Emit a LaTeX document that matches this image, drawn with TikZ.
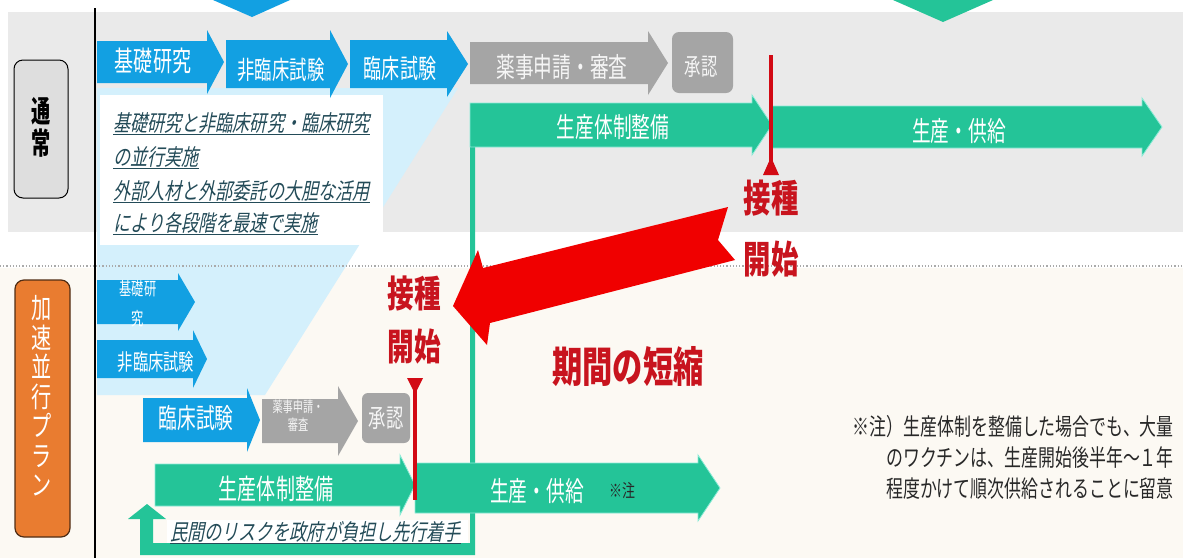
\documentclass[tikz,border=0pt]{standalone}
\usepackage{fontspec}
\newfontfamily\jpc[FakeStretch=0.72]{Noto Sans CJK JP}
\newfontfamily\jpa[FakeStretch=0.68]{Noto Sans CJK JP}
\newfontfamily\jpn[FakeStretch=0.64]{Noto Sans CJK JP}
\newfontfamily\jpi[FakeStretch=0.76,FakeSlant=0.2]{Noto Sans CJK JP}
\newcommand{\fs}[2]{\fontsize{#1}{#2}\selectfont}
\definecolor{blu}{RGB}{18,160,226}
\definecolor{gry}{RGB}{165,165,165}
\definecolor{grn}{RGB}{36,196,152}
\definecolor{grnl}{RGB}{140,235,215}
\definecolor{band}{RGB}{234,234,234}
\definecolor{cream}{RGB}{252,249,243}
\definecolor{funnel}{RGB}{212,240,252}
\definecolor{dotc}{RGB}{170,170,170}
\definecolor{rarrow}{RGB}{240,0,0}
\definecolor{rline}{RGB}{210,10,20}
\definecolor{rtxt}{RGB}{200,20,30}
\definecolor{italc}{RGB}{35,75,88}
\definecolor{notec}{RGB}{40,40,40}
\definecolor{lgray}{RGB}{222,222,222}
\definecolor{orng}{RGB}{233,124,48}
\definecolor{obrd}{RGB}{80,45,20}
\definecolor{gtxt}{RGB}{245,245,245}
% #1 style, #2 x left, #3 x head start, #4 x tip, #5 y centre, #6 half body, #7 half head
\newcommand{\harr}[7]{%
  \fill[#1] (#2,{#5-#6}) -- (#3,{#5-#6}) -- (#3,{#5-#7}) -- (#4,#5) -- (#3,{#5+#7}) -- (#3,{#5+#6}) -- (#2,{#5+#6}) -- cycle;}
\tikzset{
  wt/.style={text=white, inner sep=0pt},
  gt/.style={text=gtxt, inner sep=0pt},
  rt/.style={text=rtxt, inner sep=0pt, font=\jpc\bfseries\fs{37}{40}},
  it/.style={text=italc, inner sep=0pt, anchor=base west},
  grnarr/.style={fill=grn, draw=grnl, line width=0.8pt},
  redmark/.style={draw=rline, line width=3.5pt},
}
\begin{document}
\begin{tikzpicture}[x=1pt,y=-1pt]
\useasboundingbox (0,0) rectangle (1183,558);
\fill[white] (0,0) rectangle (1183,558);
\fill[band] (8,12) rectangle (1183,232);
\fill[cream] (0,268) rectangle (1183,558);
\fill[funnel] (97,88) -- (458,88) -- (265,395) -- (97,395) -- cycle;
\draw[dotc, dotted, line width=1.2pt] (0,266) -- (1183,266);
\draw[line width=1.3pt] (95,8) -- (95,558);
% partial arrows at the top
\fill[blu] (213,0) -- (290,0) -- (252,17) -- cycle;
\fill[grn] (893,0) -- (993,0) -- (943,22) -- cycle;
% white box behind the text
\fill[white] (100,95) rectangle (383,245);
\node[it, font=\jpi\fs{22.5}{24}] (t1) at (113,131) {\underline{基礎研究と非臨床研究・臨床研究}};
\node[it, font=\jpi\fs{22.5}{24}] (t2) at (113,165) {\underline{の並行実施}};
\node[it, font=\jpi\fs{22.5}{24}] (t3) at (113,199) {\underline{外部人材と外部委託の大胆な活用}};
\node[it, font=\jpi\fs{22.5}{24}] (t4) at (113,231) {\underline{により各段階を最速で実施}};
% green elbow
\fill[grn] (470,147) -- (475,147) -- (475,555) -- (140,555) -- (140,519) -- (128,519) -- (147,504) -- (166,519) -- (153,519) -- (153,543) -- (470,543) -- cycle;
\fill[white] (167,520) rectangle (468,543);
\node[it, font=\jpi\fs{22.5}{24}] (minkan) at (170,540) {\underline{民間のリスクを政府が負担し先行着手}};
% top row
\harr{blu}{97}{207}{224}{62}{21}{32}
\node[wt, font=\jpa\fs{28}{30}] (kiso) at (153,61) {基礎研究};
\harr{blu}{226}{330}{348}{64}{24}{34}
\node[wt, font=\jpa\fs{25.5}{27}] (hirin) at (281,70) {非臨床試験};
\harr{blu}{350}{447}{468}{64}{24}{33}
\node[wt, font=\jpa\fs{26.5}{28}] (rin) at (400,68) {臨床試験};
\harr{gry}{470}{648}{668}{63}{21}{32}
\node[gt, font=\jpa\fs{27.5}{29}] (yakuji) at (562,67) {薬事申請・審査};
\fill[gry, rounded corners=7pt] (672,32) rectangle (733,93);
\node[gt, font=\jpa\fs{24}{26}] (shonin) at (701,67) {承認};
\harr{grnarr}{470}{752}{772}{125}{22}{30}
\node[wt, font=\jpa\fs{27.5}{29}] (seisan) at (613,127) {生産体制整備};
\harr{grnarr}{772}{1142}{1162}{127}{21}{29}
\node[wt, font=\jpa\fs{27.5}{29}] (kyokyu) at (959,131) {生産・供給};
% bottom rows
\harr{blu}{97}{178}{195}{302}{22}{29}
\node[wt, font=\jpa\fs{18}{30}, align=center] (kiso2) at (138,304) {基礎研\\究};
\harr{blu}{97}{193}{207}{359}{19}{29}
\node[wt, font=\jpa\fs{22.5}{24}] (hirin2) at (156,362) {非臨床試験};
\harr{blu}{143}{247}{260}{420}{22}{32}
\node[wt, font=\jpa\fs{27.5}{29}] (rin2) at (196,418) {臨床試験};
\harr{gry}{262}{338}{358}{421}{22}{35}
\node[gt, font=\jpa\fs{15}{18}, align=center] (yakuji2) at (298,416) {薬事申請・\\審査};
\fill[gry, rounded corners=6pt] (362,393) rectangle (410,443);
\node[gt, font=\jpa\fs{25.5}{27}] (shonin2) at (386,418) {承認};
\harr{grnarr}{155}{400}{415}{485}{21}{30}
\node[wt, font=\jpa\fs{28}{30}] (seisan2) at (276,489) {生産体制整備};
\harr{grnarr}{415}{698}{720}{488}{25}{33}
\node[wt, font=\jpa\fs{27.5}{29}] (kyokyu2) at (537,491) {生産・供給};
\node[inner sep=0pt, font=\jpc\fs{18}{20}, text=notec] (chu) at (622,491) {※注};
% red markers
\draw[redmark] (771,55) -- (771,165);
\fill[rline] (771,157) -- (779,175) -- (763,175) -- cycle;
\node[rt, font=\jpc\bfseries\fs{38}{40}] (sesshu1) at (771,198) {接種};
\node[rt, font=\jpc\bfseries\fs{38}{40}] (kaishi1) at (771,259) {開始};
\draw[redmark] (415,382) -- (415,500);
\fill[rline] (407,378) -- (423,378) -- (415,394) -- cycle;
\node[rt] (sesshu2) at (414,293) {接種};
\node[rt] (kaishi2) at (414,347) {開始};
% big red arrow
\fill[rarrow] (453,306) -- (478,250) -- (483,268) -- (728,207) -- (718,240) -- (735,260) -- (490,323) -- (487,345) -- cycle;
\node[inner sep=0pt, text=rtxt, font=\jpc\bfseries\fs{42}{46}] (kikan) at (628,367) {期間の短縮};
% note
\node[inner sep=0pt, anchor=east, align=right, text=notec, font=\jpc\fs{23.5}{31}] (note) at (1174,457) {※注）生産体制を整備した場合でも、大量\\のワクチンは、生産開始後半年～１年\\程度かけて順次供給されることに留意};
% side labels
\draw[fill=lgray, rounded corners=9pt, line width=1pt] (14,60) rectangle (68,198);
\node[inner sep=0pt, align=center, font=\jpn\bfseries\fs{30}{32}] (tsujo) at (41,127) {通\\常};
\draw[fill=orng, draw=obrd, rounded corners=9pt, line width=1.2pt] (15,280) rectangle (70,537);
\node[inner sep=0pt, align=center, text=white, font=\jpc\fs{28}{29.5}] (kasoku) at (42,396) {加\\速\\並\\行\\プ\\ラ\\ン};
\end{tikzpicture}
\end{document}
